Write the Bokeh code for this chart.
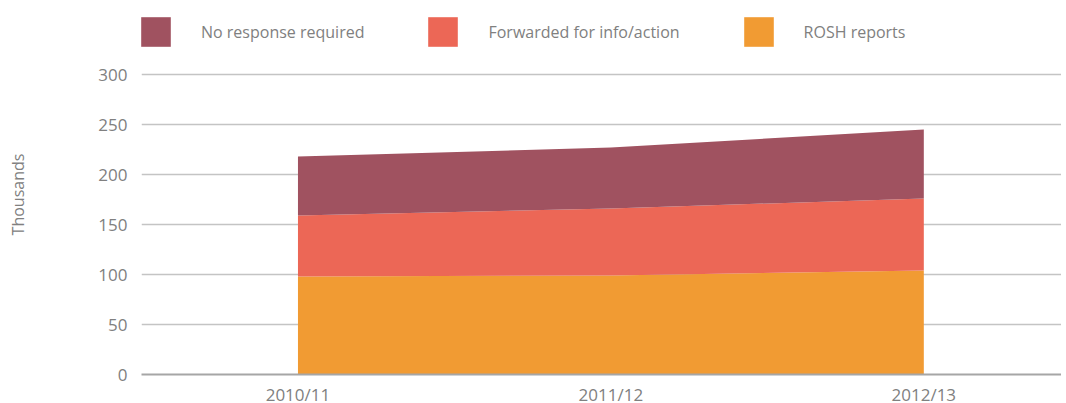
from bokeh.plotting import figure
from bokeh.models import ColumnDataSource, FixedTicker, Range1d, Legend, LegendItem
from bokeh.embed import file_html
from bokeh.resources import INLINE

years = ["2010/11", "2011/12", "2012/13"]
rosh = [98, 99, 104]
forwarded = [61, 67, 72]
no_response = [59, 61, 69]
series_names = ["ROSH reports", "Forwarded for info/action", "No response required"]
colors = ["#F19B33", "#EC6756", "#A05260"]
y_ticks = [0, 50, 100, 150, 200, 250, 300]

FONT = "Open Sans"
GREY = "#808080"

src = ColumnDataSource(dict(x=list(range(len(years))), rosh=rosh,
                            forwarded=forwarded, no_response=no_response))

# frame extends above the 300 line to leave room for the legend inside it
p = figure(frame_width=920, frame_height=360, output_backend="svg", toolbar_location=None,
           x_range=Range1d(-0.5, 2.44), y_range=Range1d(0, 360),
           min_border_left=141, min_border_right=0, min_border_top=14,
           min_border_bottom=20)
p.outline_line_color = None
p.background_fill_color = "white"

rs = p.varea_stack(stackers=["rosh", "forwarded", "no_response"], x="x",
                   color=colors, source=src)

# axes
p.xaxis.ticker = FixedTicker(ticks=list(range(len(years))))
p.xaxis.major_label_overrides = {i: y for i, y in enumerate(years)}
p.yaxis.ticker = FixedTicker(ticks=y_ticks)
for ax in (p.xaxis[0], p.yaxis[0]):
    ax.major_tick_line_color = None
    ax.minor_tick_line_color = None
    ax.major_label_text_font = FONT
    ax.major_label_text_font_size = "17px"
    ax.major_label_text_color = GREY
p.xaxis.axis_line_color = "#A6A6A6"
p.xaxis.axis_line_width = 2
p.yaxis.axis_line_color = None
p.xaxis.major_label_standoff = 2
p.yaxis.major_label_standoff = 8
p.yaxis.axis_label = "Thousands"
p.yaxis.axis_label_text_font = FONT
p.yaxis.axis_label_text_font_size = "16px"
p.yaxis.axis_label_text_font_style = "normal"
p.yaxis.axis_label_text_color = GREY
p.yaxis.axis_label_standoff = 66

p.xgrid.grid_line_color = None
p.ygrid.grid_line_color = "#C4C4C4"
p.ygrid.grid_line_width = 1.5

items = [LegendItem(label=series_names[i], renderers=[rs[i]]) for i in [2, 1, 0]]
legend = Legend(items=items, orientation="horizontal", location=(-4, 316),
                glyph_width=37, glyph_height=37, label_standoff=27, spacing=60,
                padding=0, margin=0, border_line_color=None,
                background_fill_alpha=0,
                label_text_font=FONT, label_text_font_size="16px",
                label_text_color=GREY, label_height=53)
p.add_layout(legend, "center")

open("out.html", "w").write(file_html(p, INLINE))
